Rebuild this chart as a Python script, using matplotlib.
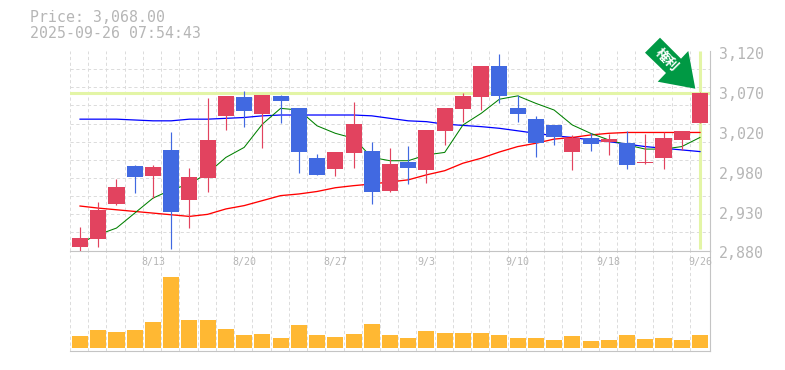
import numpy as np
import matplotlib
matplotlib.use("Agg")
import matplotlib.pyplot as plt
from matplotlib.patches import Polygon
from matplotlib.transforms import ScaledTranslation

W, H = 785, 370
open_ = [2884,2894,2936,2982,2970,3001,2941,2967,3042,3065,3044,3066,3051,2991,2978,2997,3000,2952,2987,2977,3024,3050,3065,3102,3051,3038,3031,2999,3015,3011,3009,2985,2991,3013,3033]
high  = [2908,2938,2966,2983,2983,3022,2979,3064,3066,3072,3067,3067,3051,2996,2999,3059,3011,3003,3006,3025,3051,3070,3102,3116,3067,3042,3031,3019,3021,3020,3024,3020,3023,3024,3071]
low   = [2880,2884,2935,2949,2943,2882,2907,2950,3025,3029,3003,3033,2973,2971,2970,2979,2936,2950,2960,2961,3007,3035,3049,3057,3035,2992,3007,2977,3000,2995,2978,2984,2978,3001,3033]
close = [2895,2929,2956,2968,2980,2926,2968,3013,3066,3048,3067,3060,2999,2971,2999,3032,2950,2984,2979,3025,3051,3066,3102,3066,3044,3009,3017,3015,3008,3014,2983,2987,3015,3024,3070]
ma_short = [2889,2899,2907,2925,2943,2953,2960,2973,2992,3004,3032,3051,3049,3030,3021,3015,2992,2988,2988,2995,2998,3031,3045,3062,3066,3057,3049,3031,3021,3013,3007,3002,3002,3005,3016]
ma_mid = [2933.5,2931,2929,2927,2925,2923,2921,2923.5,2930,2934,2940,2946,2948,2951,2955.5,2958,2960,2962.5,2965,2971,2976,2985,2991,2998.5,3005,3009,3014,3016,3019,3021,3022,3022,3022,3022,3022]
ma_long = [3038,3038,3038,3037,3036,3036,3038,3038,3039,3040,3042,3043,3043,3043,3043,3043,3042,3039,3036,3035,3032,3030.5,3029,3027,3024,3021,3018,3016,3013,3011,3008,3005,3003,3001,2999]
volume = [120,180,160,180,260,710,280,280,190,130,140,100,230,130,110,140,240,130,100,170,150,150,150,130,100,100,80,120,70,80,130,90,100,80,130]
x_tick_index = [4,9,14,19,24,29,34]
x_tick_labels = ["8/13","8/20","8/27","9/3","9/10","9/18","9/26"]
y_tick_values = [2880,2928,2976,3024,3072,3120]
y_tick_labels = ["2,880","2,930","2,980","3,020","3,070","3,120"]
current_level = 3069.5
title_lines = ["Price: 3,068.00","2025-09-26 07:54:43"]

RED, BLUE = "#e2435f", "#4169e1"
GRID, TXT, BORDER, HILITE = "#dcdcdc", "#b6b6b6", "#c4c4c4", "#e3f5a6"
MONO = "DejaVu Sans Mono"

fig = plt.figure(figsize=(W/100, H/100), dpi=100, facecolor="white")
def box(l, t, r, b):
    return [l/W, 1-b/H, (r-l)/W, (b-t)/H]
ax = fig.add_axes(box(70, 51, 710, 250.5))
av = fig.add_axes(box(70, 250.5, 710, 350.5))
av.patch.set_visible(False)
ax.set_zorder(2); av.set_zorder(1)

n = len(open_)
x = np.arange(n)
xlim = (-0.55, n-1+0.55)
gridx = np.arange(n)-0.55
DASH = (0,(3.2,2.6))
for a in (ax, av):
    a.set_xlim(*xlim)
    a.set_xticks(gridx, minor=True)
    a.grid(True, which="minor", axis="x", color=GRID, lw=0.72, ls=DASH, zorder=0)
    a.set_axisbelow(True)
    a.tick_params(which="both", length=0)
    for s in ("left","top"):
        a.spines[s].set_visible(False)
    for s in ("right","bottom"):
        a.spines[s].set_color(BORDER); a.spines[s].set_linewidth(0.8)

ax.set_ylim(2880, 3120)
ax.set_yticks(np.linspace(2880, 3120, 12), minor=True)
ax.grid(True, which="minor", axis="y", color=GRID, lw=0.72, ls=DASH, zorder=0)
ax.yaxis.tick_right()
ax.set_yticks(y_tick_values, y_tick_labels)
ax.tick_params(axis="y", which="major", labelsize=10.7, labelcolor=TXT, pad=6.5)
for lab in ax.get_yticklabels():
    lab.set_family(MONO)
    lab.set_transform(lab.get_transform()+ScaledTranslation(0, -0.02, fig.dpi_scale_trans))
ax.set_xticks(x_tick_index, x_tick_labels)
ax.tick_params(axis="x", which="major", labelsize=7.2, labelcolor=TXT, pad=5)
for lab in ax.get_xticklabels():
    lab.set_family(MONO)

# current-price highlight
ax.axhline(current_level, color=HILITE, lw=2.2, zorder=1)
ax.plot([n-1, n-1], [0.008, 1], transform=ax.get_xaxis_transform(), color=HILITE, lw=2.2, zorder=1, solid_capstyle="butt")

# moving averages
ax.plot(x, ma_long, color="#0000ff", lw=0.9, zorder=2)
ax.plot(x, ma_mid, color="#ff0000", lw=0.95, zorder=2)
ax.plot(x, ma_short, color="#008000", lw=0.75, zorder=2)

# candles
for i in range(n):
    c = RED if close[i] >= open_[i] else BLUE
    ax.vlines(x[i], low[i], high[i], color=c, lw=0.85, zorder=3)
    ax.bar(x[i], abs(close[i]-open_[i]), bottom=min(open_[i], close[i]), width=0.88, color=c, lw=0, zorder=4)

# volume
av.set_ylim(-25, 975)
av.set_yticks([]); av.set_xticks([])
av.bar(x, volume, width=0.88, color="#ffb833", lw=0, zorder=3)

# header
for line, yy in zip(title_lines, (18, 33)):
    fig.text(30/W, 1-yy/H, line, family=MONO, fontsize=10.7, color=TXT, va="center", ha="left")

# arrow badge
pts = [(660,37.7),(681,58.7),(688.3,51),(695.3,88.7),(657.7,81.7),(666,73),(645,52.7)]
fig.add_artist(Polygon([(p/W, 1-q/H) for p, q in pts], closed=True, transform=fig.transFigure, facecolor="#009944", edgecolor="none", zorder=10))
fig.text(667/W, 1-60/H, "権利", family=["Noto Sans CJK JP","DejaVu Sans"], weight="bold", fontsize=9.5, color="white",
         rotation=-45, rotation_mode="anchor", ha="center", va="center", zorder=11)

fig.savefig("out.png", dpi=100)
